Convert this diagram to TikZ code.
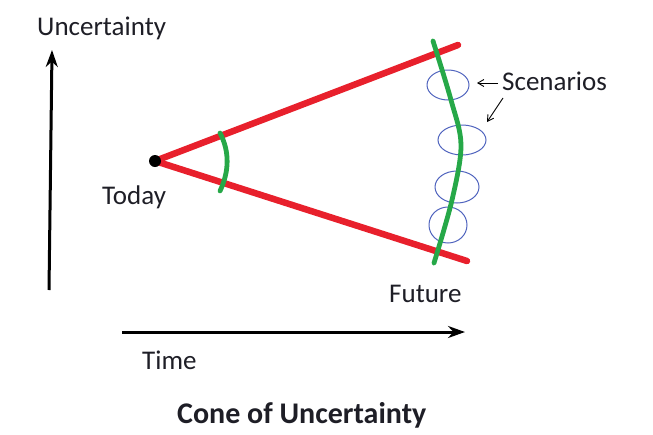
\documentclass[tikz,border=0pt]{standalone}
\usepackage{fontspec}
\setmainfont{Carlito}
\usetikzlibrary{arrows.meta}
\definecolor{conered}{RGB}{232,32,44}
\definecolor{conegreen}{RGB}{38,168,72}
\definecolor{scenblue}{RGB}{80,100,190}
\definecolor{txt}{RGB}{30,30,38}
\tikzset{
  lbl/.style={anchor=base west,inner sep=0pt,text=txt,font=\fontsize{27}{30}\selectfont},
  ttl/.style={anchor=base west,inner sep=0pt,text=txt,font=\bfseries\fontsize{30}{33}\selectfont},
  redline/.style={draw=conered,line width=6.5pt,line cap=round},
  greenline/.style={draw=conegreen,line width=4.8pt,line cap=round},
  axis/.style={draw=black,line width=3pt,-{Stealth[length=17pt,width=12pt]}},
  scen/.style={draw=scenblue,line width=1pt},
  pointer/.style={draw=black,line width=0.9pt,-{Straight Barb[length=6pt,width=7pt]}}
}
\begin{document}
\begin{tikzpicture}[x=1pt,y=-1pt]
\useasboundingbox (0,0) rectangle (653,434);
% coordinates
\coordinate (today) at (155,161);
\coordinate (topend) at (458,45);
\coordinate (botend) at (467,261);
\coordinate (ybot) at (49,290);
\coordinate (ytop) at (52,50);
\coordinate (xleft) at (122,332);
\coordinate (xright) at (465,332);
% axes
\draw[axis] (ybot) -- (ytop);
\draw[axis] (xleft) -- (xright);
% scenario ellipses
\draw[scen] (448,85) ellipse [x radius=21,y radius=15];
\draw[scen] (462,140) ellipse [x radius=24,y radius=15];
\draw[scen] (457,187) ellipse [x radius=22,y radius=16];
\draw[scen] (448,225) ellipse [x radius=19,y radius=18];
% cone
\draw[redline] (today) -- (topend);
\draw[redline] (today) -- (botend);
\fill[black] (today) circle [radius=6];
% small arc
\draw[greenline] (220,133) .. controls (230,152) and (229,172) .. (220,191);
% future curve
\draw[greenline] plot[smooth,tension=0.55] coordinates {(433,41) (451,100) (461,145) (452,200) (434,263)};
% labels
\node[lbl] (unc) at (37,35) {Uncertainty};
\node[lbl] (tod) at (102,204) {Today};
\node[lbl] (fut) at (389,302) {Future};
\node[lbl] (tim) at (142,369) {Time};
\node[lbl] (scn) at (502,90) {Scenarios};
\node[ttl] (title) at (177,423) {Cone of Uncertainty};
% pointers
\coordinate (p1a) at (498,83);
\coordinate (p1b) at (477,83);
\coordinate (p2a) at (503,98);
\coordinate (p2b) at (487,122);
\draw[pointer] (p1a) -- (p1b);
\draw[pointer] (p2a) -- (p2b);
\end{tikzpicture}
\end{document}
